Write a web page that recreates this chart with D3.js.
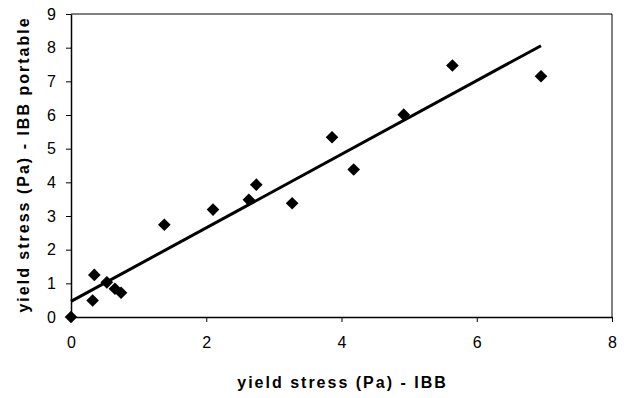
<!DOCTYPE html>
<html><head><meta charset="utf-8">
<script src="https://cdn.jsdelivr.net/npm/d3@7"></script>
<style>
html,body{margin:0;padding:0;background:#fff;}
svg{display:block;font-family:"Liberation Sans",Arial,sans-serif;}
</style></head>
<body><svg id="c" width="633" height="398"></svg>
<script>
const xValues = [0, 0.32, 0.345, 0.53, 0.65, 0.74, 1.38, 2.10, 2.63, 2.74, 3.27, 3.86, 4.18, 4.92, 5.64, 6.95];
const yValues = [0, 0.49, 1.25, 1.03, 0.84, 0.72, 2.74, 3.19, 3.48, 3.93, 3.38, 5.34, 4.38, 6.01, 7.47, 7.15];
const xTicks = [0, 2, 4, 6, 8];
const yTicks = [0, 1, 2, 3, 4, 5, 6, 7, 8, 9];
const xTitle = "yield stress (Pa) - IBB";
const yTitle = "yield stress (Pa) - IBB portable";

const svg = d3.select("#c");
const m = {left: 71, right: 21, top: 14, bottom: 81};
const W = 633, H = 398;
const x = d3.scaleLinear().domain([0, 8]).range([m.left, W - m.right]);
const y = d3.scaleLinear().domain([0, 9]).range([H - m.bottom, m.top]);

// plot frame (top/right)
svg.append("path")
  .attr("d", `M${x(0)},${y(9)}H${x(8)}V${y(0)}`)
  .attr("fill", "none").attr("stroke", "#000").attr("stroke-width", 1);

const xAxis = svg.append("g").attr("transform", `translate(0,${y(0)})`)
  .call(d3.axisBottom(x).tickValues(xTicks).tickSize(5).tickPadding(15).tickSizeOuter(0));
const yAxis = svg.append("g").attr("transform", `translate(${x(0)},0)`)
  .call(d3.axisLeft(y).tickValues(yTicks).tickSize(5).tickPadding(10).tickSizeOuter(0));
[xAxis, yAxis].forEach(g => {
  g.select(".domain").attr("stroke", "#000").attr("stroke-width", 1.5);
  g.selectAll(".tick line").attr("stroke", "#000");
  g.selectAll("text").attr("font-size", 16).attr("fill", "#000")
    .attr("font-family", "Liberation Sans, Arial, sans-serif");
});

// linear regression trendline
const n = xValues.length;
const mx = d3.mean(xValues), my = d3.mean(yValues);
let sxy = 0, sxx = 0;
for (let i = 0; i < n; i++) { sxy += (xValues[i]-mx)*(yValues[i]-my); sxx += (xValues[i]-mx)**2; }
const slope = sxy / sxx, icpt = my - slope * mx;
const x0 = d3.min(xValues), x1 = d3.max(xValues);
svg.append("line")
  .attr("x1", x(x0)).attr("y1", y(icpt + slope*x0))
  .attr("x2", x(x1)).attr("y2", y(icpt + slope*x1))
  .attr("stroke", "#000").attr("stroke-width", 3);

const sym = d3.symbol().type(d3.symbolSquare).size(80);
svg.append("g").selectAll("path").data(xValues.map((v,i)=>[v,yValues[i]])).join("path")
  .attr("d", sym)
  .attr("transform", d => `translate(${x(d[0])},${y(d[1])}) rotate(45)`)
  .attr("fill", "#000");

svg.append("text")
  .attr("x", (x(0)+x(8))/2 + 1).attr("y", 388)
  .attr("text-anchor", "middle").attr("font-weight", "bold").attr("font-size", 16)
  .attr("letter-spacing", 2)
  .text(xTitle);
svg.append("text")
  .attr("transform", `translate(29,${(y(0)+y(9))/2 - 1}) rotate(-90)`)
  .attr("text-anchor", "middle").attr("font-weight", "bold").attr("font-size", 16)
  .attr("letter-spacing", 2)
  .text(yTitle);
</script></body></html>
